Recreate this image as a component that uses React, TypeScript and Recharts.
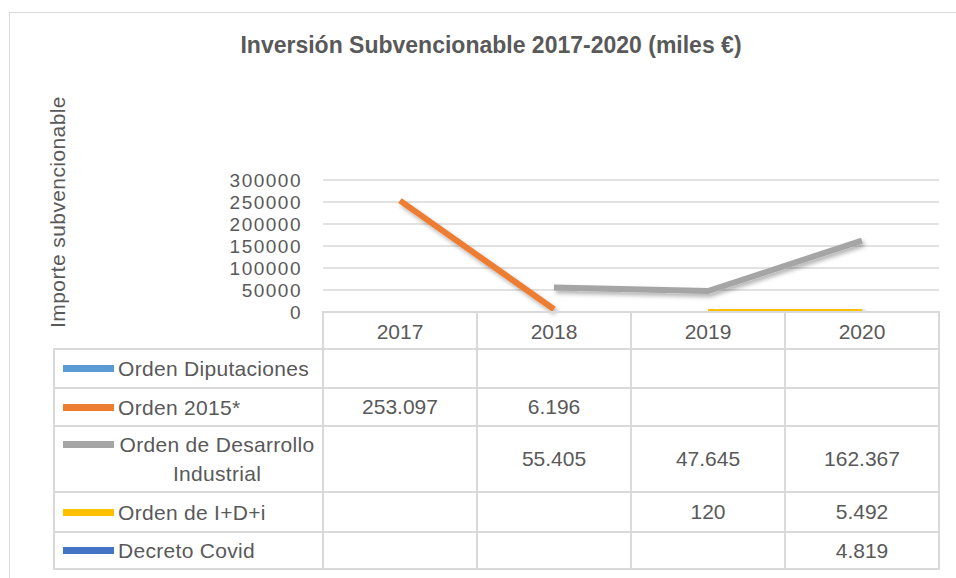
import { CartesianGrid, Line, LineChart, XAxis, YAxis } from "recharts";

const YEARS = ["2017", "2018", "2019", "2020"];
const ORDEN_DIPUTACIONES: (number | null)[] = [null, null, null, null];
const ORDEN_2015: (number | null)[] = [253097, 6196, null, null];
const ORDEN_DESARROLLO: (number | null)[] = [null, 55405, 47645, 162367];
const ORDEN_IDI: (number | null)[] = [null, null, 120, 5492];
const DECRETO_COVID: (number | null)[] = [null, null, null, 4819];
const Y_TICKS = [0, 50000, 100000, 150000, 200000, 250000, 300000];

const SERIES = [
    { key: "dip", name: "Orden Diputaciones", color: "#5B9BD5", values: ORDEN_DIPUTACIONES },
    { key: "o2015", name: "Orden 2015*", color: "#ED7D31", values: ORDEN_2015 },
    { key: "desarrollo", name: "Orden de Desarrollo Industrial", color: "#A5A5A5", values: ORDEN_DESARROLLO },
    { key: "idi", name: "Orden de I+D+i", color: "#FFC000", values: ORDEN_IDI },
    { key: "covid", name: "Decreto Covid", color: "#4472C4", values: DECRETO_COVID },
];

const data = YEARS.map((year, i) => {
    const row: Record<string, string | number | null> = { year };
    SERIES.forEach((s) => (row[s.key] = s.values[i]));
    return row;
});

// Spanish style thousands separator, also for 4 digit numbers
const fmt = (v: number | null) =>
    v == null ? "" : String(v).replace(/\B(?=(\d{3})+(?!\d))/g, ".");

const TEXT = "#595959";
const GRID = "#d9d9d9";
const FONT = "'Liberation Sans', Arial, sans-serif";

// table layout
const PLOT_LEFT = 323;
const COL_W = 154;
const TABLE_LEFT = 54;
const HEADER_TOP = 312;
const ROW_TOPS = [349, 388, 426, 492, 532];
const TABLE_BOTTOM = 569;

const HLine = ({ x1, x2, y }: { x1: number; x2: number; y: number }) => (
    <div
        style={{
            position: "absolute",
            left: x1 - 1,
            top: y - 1,
            width: x2 - x1 + 2,
            height: 2,
            background: GRID,
        }}
    />
);

const VLine = ({ x, y1, y2 }: { x: number; y1: number; y2: number }) => (
    <div
        style={{
            position: "absolute",
            left: x - 1,
            top: y1 - 1,
            width: 2,
            height: y2 - y1 + 2,
            background: GRID,
        }}
    />
);

const DataTable = () => {
    const tableRight = PLOT_LEFT + COL_W * YEARS.length;
    const rowBottoms = [...ROW_TOPS.slice(1), TABLE_BOTTOM];
    return (
        <>
            <HLine x1={PLOT_LEFT} x2={tableRight} y={HEADER_TOP} />
            {[...ROW_TOPS, TABLE_BOTTOM].map((y) => (
                <HLine key={y} x1={TABLE_LEFT} x2={tableRight} y={y} />
            ))}
            <VLine x={TABLE_LEFT} y1={ROW_TOPS[0]} y2={TABLE_BOTTOM} />
            {YEARS.map((_, i) => (
                <VLine key={i} x={PLOT_LEFT + COL_W * i} y1={HEADER_TOP} y2={TABLE_BOTTOM} />
            ))}
            <VLine x={tableRight} y1={HEADER_TOP} y2={TABLE_BOTTOM} />

            {SERIES.map((s, r) => {
                const top = ROW_TOPS[r];
                const h = rowBottoms[r] - top;
                return (
                    <div key={s.key}>
                        <div
                            style={{
                                position: "absolute",
                                left: TABLE_LEFT,
                                top,
                                width: PLOT_LEFT - TABLE_LEFT,
                                height: h,
                                display: "flex",
                                alignItems: "center",
                            }}
                        >
                            <div style={{ display: "flex", alignItems: "flex-start", marginLeft: 9 }}>
                                <div
                                    style={{
                                        width: 51,
                                        height: 7,
                                        marginTop: 11,
                                        background: s.color,
                                        flexShrink: 0,
                                    }}
                                />
                                <div
                                    style={{
                                        marginLeft: 4,
                                        width: "fit-content",
                                        maxWidth: 198,
                                        textAlign: "center",
                                        lineHeight: "29px",
                                        letterSpacing: 0.3,
                                    }}
                                >
                                    {s.name}
                                </div>
                            </div>
                        </div>
                        {s.values.map((v, i) => (
                            <div
                                key={i}
                                style={{
                                    position: "absolute",
                                    left: PLOT_LEFT + COL_W * i,
                                    top,
                                    width: COL_W,
                                    height: h,
                                    display: "flex",
                                    alignItems: "center",
                                    justifyContent: "center",
                                }}
                            >
                                {fmt(v)}
                            </div>
                        ))}
                    </div>
                );
            })}
        </>
    );
};

const App = () => {
    return (
        <div
            style={{
                position: "absolute",
                left: 0,
                top: 0,
                width: 956,
                height: 578,
                overflow: "hidden",
                background: "#fff",
                fontFamily: FONT,
                fontSize: 21,
                color: TEXT,
            }}
        >
            <div
                style={{
                    position: "absolute",
                    left: 9,
                    top: 12,
                    width: 960,
                    height: 580,
                    border: `1px solid ${GRID}`,
                    boxSizing: "border-box",
                }}
            />
            <svg width={956} height={578} style={{ position: "absolute", left: 0, top: 0 }}>
                <defs>
                    <filter id="lineShadow" x="-10%" y="-10%" width="130%" height="140%">
                        <feDropShadow dx="2" dy="3" stdDeviation="2" floodColor="#000" floodOpacity="0.3" />
                    </filter>
                </defs>
                <text
                    x={491}
                    y={53}
                    textAnchor="middle"
                    fontFamily={FONT}
                    fontWeight="bold"
                    fontSize={23}
                    fill={TEXT}
                >
                    Inversión Subvencionable 2017-2020 (miles €)
                </text>
                <text
                    transform="translate(65,212) rotate(-90)"
                    textAnchor="middle"
                    fontFamily={FONT}
                    fontSize={21}
                    letterSpacing={0.4}
                    fill={TEXT}
                >
                    Importe subvencionable
                </text>
            </svg>
            <div style={{ position: "absolute", left: 0, top: 0 }}>
                <LineChart
                    width={956}
                    height={578}
                    data={data}
                    margin={{ top: 180, right: 17, bottom: 236, left: 223 }}
                >
                    <CartesianGrid vertical={false} stroke={GRID} strokeWidth={1.5} />
                    <XAxis
                        dataKey="year"
                        height={30}
                        padding={{ left: COL_W / 2, right: COL_W / 2 }}
                        axisLine={false}
                        tickLine={false}
                        tickSize={0}
                        tickMargin={12}
                        tick={{ fill: TEXT, fontSize: 21, fontFamily: FONT }}
                    />
                    <YAxis
                        width={100}
                        domain={[0, 300000]}
                        ticks={Y_TICKS}
                        interval={0}
                        axisLine={false}
                        tickLine={false}
                        tickSize={0}
                        tickMargin={21}
                        tick={{ fill: TEXT, fontSize: 19, fontFamily: FONT, letterSpacing: 1.5 }}
                    />
                    {SERIES.map((s) => (
                        <Line
                            key={s.key}
                            dataKey={s.key}
                            name={s.name}
                            stroke={s.color}
                            strokeWidth={6}
                            filter="url(#lineShadow)"
                            dot={false}
                            activeDot={false}
                            isAnimationActive={false}
                        />
                    ))}
                </LineChart>
            </div>
            <DataTable />
        </div>
    );
};

export default App;
